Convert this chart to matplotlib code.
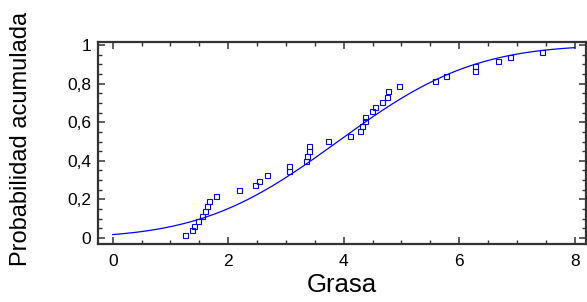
import numpy as np
import matplotlib
matplotlib.use("Agg")
import matplotlib.pyplot as plt
from matplotlib.ticker import MultipleLocator, FuncFormatter
from math import erf, sqrt

plt.rcParams["font.family"] = ["Liberation Sans", "DejaVu Sans"]

# datos observados (grasa ordenada, probabilidad empirica)
grasa = [1.26, 1.37, 1.40, 1.47, 1.55, 1.60, 1.64, 1.67, 1.78, 2.19,
         2.47, 2.53, 2.67, 3.06, 3.06, 3.34, 3.37, 3.40, 3.40, 3.73,
         4.11, 4.29, 4.32, 4.37, 4.37, 4.49, 4.54, 4.66, 4.75, 4.77,
         4.96, 5.58, 5.78, 6.28, 6.28, 6.67, 6.88, 7.43]
prob = [0.014, 0.040, 0.064, 0.090, 0.114, 0.141, 0.166, 0.190, 0.218, 0.247,
        0.273, 0.297, 0.325, 0.349, 0.375, 0.400, 0.426, 0.452, 0.478, 0.503,
        0.527, 0.553, 0.579, 0.606, 0.629, 0.656, 0.680, 0.706, 0.732, 0.762,
        0.788, 0.812, 0.838, 0.864, 0.891, 0.915, 0.940, 0.965]

# distribucion normal ajustada
media = 3.9
desv = 1.85
x_curva = np.linspace(0, 8, 200)
y_curva = [0.5 * (1 + erf((v - media) / (desv * sqrt(2)))) for v in x_curva]

fig = plt.figure(figsize=(5.87, 3.02), dpi=100)
ax = fig.add_axes([0.1675, 0.191, 0.831, 0.670])

ax.plot(x_curva, y_curva, color="#0000ff", linewidth=0.9)
ax.plot(grasa, prob, linestyle="none", marker="s", markersize=3.6,
        markerfacecolor="none", markeredgecolor="#0000ff", markeredgewidth=0.8)

ax.set_xlim(-0.25, 8.2)
ax.set_ylim(-0.033, 1.016)
ax.xaxis.set_major_locator(MultipleLocator(2))
ax.xaxis.set_minor_locator(MultipleLocator(0.5))
ax.yaxis.set_major_locator(MultipleLocator(0.2))
ax.yaxis.set_minor_locator(MultipleLocator(0.05))
ax.yaxis.set_major_formatter(FuncFormatter(lambda v, p: ("%g" % round(v, 1)).replace(".", ",")))

ax.tick_params(which="both", direction="in", top=True, right=True,
               color="#333333", labelsize=12.5)
ax.tick_params(which="major", length=5, width=1.1)
ax.tick_params(which="minor", length=3, width=1.0)
ax.tick_params(axis="x", pad=7)
ax.tick_params(axis="y", pad=5)

for s in ax.spines.values():
    s.set_color("#333333")
    s.set_linewidth(1.6)

ax.set_xlabel("Grasa", fontsize=18.5, labelpad=3)
ax.set_ylabel("Probabilidad acumulada", fontsize=17, labelpad=20)
ax.yaxis.set_label_coords(-0.135, 0.52)

fig.savefig("out.png", dpi=100)
